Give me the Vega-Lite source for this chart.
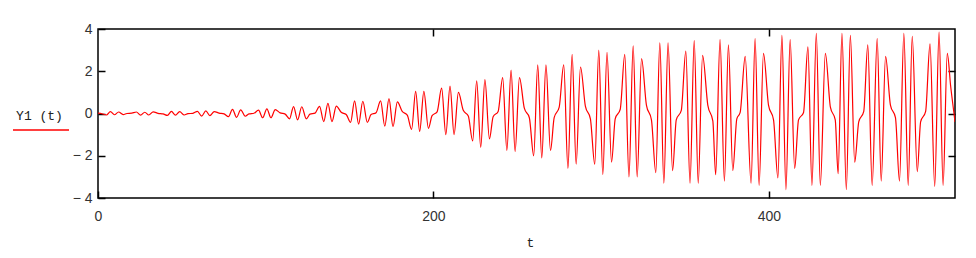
{
  "$schema": "https://vega.github.io/schema/vega-lite/v6.json",
  "width": 857,
  "height": 169,
  "autosize": {"type": "none"},
  "padding": {"left": 98, "top": 29, "right": 21, "bottom": 60},
  "background": "white",
  "config": {
    "view": {"stroke": "#000", "strokeWidth": 1.5},
    "axis": {"grid": false, "domain": false, "labelFont": "Liberation Sans", "labelFontSize": 14, "labelColor": "#333", "tickColor": "#000", "tickWidth": 1.5, "tickSize": -7, "labelFlush": false, "labelOverlap": false}
  },
  "data": {"values": [
    {"t":0,"y":0.02},{"t":2.4,"y":-0.01},{"t":5.0,"y":-0.07},{"t":7.4,"y":0.09},{"t":9.8,"y":-0.06},{"t":12.3,"y":0.07},{"t":15.0,"y":-0.05},{"t":17.2,"y":0.0},{"t":20.2,"y":0.02},{"t":22.9,"y":0.07},{"t":25.4,"y":-0.08},{"t":27.9,"y":0.06},{"t":30.3,"y":-0.07},{"t":32.9,"y":0.08},
    {"t":35.8,"y":0.01},{"t":38.8,"y":-0.02},{"t":41.4,"y":-0.09},{"t":43.8,"y":0.1},{"t":46.2,"y":-0.08},{"t":48.7,"y":0.09},{"t":51.4,"y":-0.07},{"t":53.6,"y":-0.01},{"t":56.6,"y":0.01},{"t":59.3,"y":0.1},{"t":61.8,"y":-0.12},{"t":64.3,"y":0.12},{"t":66.7,"y":-0.1},{"t":69.3,"y":0.09},
    {"t":72.2,"y":0.02},{"t":75.2,"y":-0.02},{"t":77.8,"y":-0.15},{"t":80.2,"y":0.2},{"t":82.6,"y":-0.18},{"t":85.1,"y":0.17},{"t":87.8,"y":-0.13},{"t":90.0,"y":-0.02},{"t":93.0,"y":0.01},{"t":95.7,"y":0.16},{"t":98.2,"y":-0.2},{"t":100.7,"y":0.22},{"t":103.1,"y":-0.2},{"t":105.7,"y":0.18},
    {"t":108.6,"y":0.03},{"t":111.6,"y":-0.03},{"t":114.2,"y":-0.25},{"t":116.6,"y":0.33},{"t":119.0,"y":-0.3},{"t":121.5,"y":0.32},{"t":124.2,"y":-0.25},{"t":126.4,"y":-0.03},{"t":129.4,"y":0.02},{"t":132.1,"y":0.34},{"t":134.6,"y":-0.38},{"t":137.1,"y":0.48},{"t":139.5,"y":-0.38},{"t":142.1,"y":0.35},
    {"t":145.0,"y":0.06},{"t":148.0,"y":-0.05},{"t":150.6,"y":-0.42},{"t":153.0,"y":0.6},{"t":155.4,"y":-0.5},{"t":157.9,"y":0.58},{"t":160.6,"y":-0.42},{"t":162.8,"y":-0.05},{"t":165.8,"y":0.04},{"t":168.5,"y":0.6},{"t":171.0,"y":-0.6},{"t":173.5,"y":0.7},{"t":175.9,"y":-0.62},{"t":178.5,"y":0.55},
    {"t":181.4,"y":0.1},{"t":184.4,"y":-0.08},{"t":187.0,"y":-0.75},{"t":189.4,"y":1.05},{"t":191.8,"y":-0.85},{"t":194.3,"y":1.05},{"t":197.0,"y":-0.7},{"t":199.2,"y":-0.1},{"t":202.2,"y":0.08},{"t":204.9,"y":1.2},{"t":207.4,"y":-1.0},{"t":209.9,"y":1.3},{"t":212.3,"y":-1.0},{"t":214.9,"y":1.0},
    {"t":217.8,"y":0.15},{"t":220.8,"y":-0.12},{"t":223.4,"y":-1.3},{"t":225.8,"y":1.55},{"t":228.2,"y":-1.6},{"t":230.7,"y":1.6},{"t":233.4,"y":-1.2},{"t":235.6,"y":-0.15},{"t":238.6,"y":0.1},{"t":241.3,"y":1.7},{"t":243.8,"y":-1.75},{"t":246.3,"y":2.05},{"t":248.7,"y":-1.8},{"t":251.3,"y":1.7},
    {"t":254.2,"y":0.25},{"t":257.2,"y":-0.2},{"t":259.8,"y":-2.0},{"t":262.2,"y":2.3},{"t":264.6,"y":-2.1},{"t":267.1,"y":2.3},{"t":269.8,"y":-1.75},{"t":272.0,"y":-0.2},{"t":275.0,"y":0.3},{"t":277.7,"y":2.3},{"t":280.2,"y":-2.6},{"t":282.7,"y":2.8},{"t":285.1,"y":-2.4},{"t":287.7,"y":2.2},
    {"t":290.6,"y":0.35},{"t":293.6,"y":-0.25},{"t":296.2,"y":-2.4},{"t":298.6,"y":3.0},{"t":301.0,"y":-2.9},{"t":303.5,"y":2.9},{"t":306.2,"y":-2.3},{"t":308.4,"y":-0.25},{"t":311.4,"y":0.2},{"t":314.1,"y":2.8},{"t":316.6,"y":-3.0},{"t":319.1,"y":3.2},{"t":321.5,"y":-3.0},{"t":324.1,"y":2.6},
    {"t":327.0,"y":0.4},{"t":330.0,"y":-0.3},{"t":332.6,"y":-2.8},{"t":335.0,"y":3.35},{"t":337.4,"y":-3.3},{"t":339.9,"y":3.35},{"t":342.6,"y":-2.7},{"t":344.8,"y":-0.3},{"t":347.8,"y":0.15},{"t":350.5,"y":2.95},{"t":353.0,"y":-3.3},{"t":355.5,"y":3.45},{"t":357.9,"y":-3.3},{"t":360.5,"y":2.75},
    {"t":363.6,"y":0.4},{"t":366.6,"y":-0.35},{"t":368.3,"y":-2.9},{"t":370.9,"y":3.5},{"t":373.5,"y":-3.2},{"t":375.9,"y":3.25},{"t":378.5,"y":-2.7},{"t":380.9,"y":-0.25},{"t":382.9,"y":0.05},{"t":385.9,"y":2.7},{"t":389.4,"y":-3.3},{"t":391.8,"y":3.55},{"t":394.2,"y":-3.4},{"t":396.8,"y":2.85},
    {"t":399.8,"y":0.4},{"t":402.8,"y":-0.3},{"t":405.4,"y":-3.05},{"t":407.8,"y":3.7},{"t":410.2,"y":-3.6},{"t":412.7,"y":3.5},{"t":415.4,"y":-2.6},{"t":417.7,"y":-0.3},{"t":420.7,"y":0.05},{"t":423.3,"y":3.15},{"t":425.7,"y":-3.4},{"t":428.3,"y":3.8},{"t":430.7,"y":-3.4},{"t":433.7,"y":2.85},
    {"t":436.7,"y":0.3},{"t":439.6,"y":-0.3},{"t":441.3,"y":-2.85},{"t":443.6,"y":3.8},{"t":446.2,"y":-3.6},{"t":448.6,"y":3.7},{"t":451.2,"y":-2.3},{"t":453.6,"y":-0.4},{"t":456.6,"y":0.1},{"t":459.0,"y":3.25},{"t":461.6,"y":-3.4},{"t":464.6,"y":3.55},{"t":467.0,"y":-3.2},{"t":469.6,"y":2.7},
    {"t":472.5,"y":0.4},{"t":475.5,"y":-0.2},{"t":477.9,"y":-3.2},{"t":480.5,"y":3.8},{"t":483.1,"y":-3.4},{"t":485.5,"y":3.65},{"t":488.5,"y":-2.75},{"t":490.5,"y":-0.4},{"t":493.5,"y":0.1},{"t":496.1,"y":3.3},{"t":498.9,"y":-3.45},{"t":501.5,"y":3.85},{"t":503.9,"y":-3.4},{"t":506.4,"y":2.85},
    {"t":508.4,"y":1.3},{"t":510.4,"y":0.0},{"t":511.0,"y":-0.4}
  ]},
  "layer": [
    {
      "mark": {"type": "line", "strokeWidth": 1.2, "interpolate": "monotone", "clip": true},
      "encoding": {
        "x": {"field": "t", "type": "quantitative", "scale": {"domain": [0, 511], "nice": false, "zero": false},
          "axis": {"orient": "bottom", "values": [0, 200, 400], "title": "t", "labelPadding": 18, "labelDx": 3,
            "titleFont": "Liberation Mono", "titleFontSize": 13, "titleFontWeight": "normal", "titleColor": "#222",
            "titleX": 432, "titleY": 44, "titleBaseline": "middle", "titleAlign": "center"}},
        "y": {"field": "y", "type": "quantitative", "scale": {"domain": [-4, 4], "nice": false, "zero": false},
          "axis": {"orient": "left", "values": [-4, -2, 0, 2, 4], "title": "Y1 (t)", "labelPadding": 13, "labelDy": 2,
            "labelExpr": "datum.value < 0 ? '\u2212 ' + abs(datum.value) : datum.label",
            "titleFont": "Liberation Mono", "titleFontSize": 13, "titleFontWeight": "normal", "titleColor": "#222",
            "titleAngle": 0, "titleX": -59, "titleY": 86, "titleAlign": "center", "titleBaseline": "middle"}},
        "color": {"datum": "Y1 (t)", "scale": {"range": ["#ff0000"]},
          "legend": {"orient": "none", "legendX": -86, "legendY": 72, "title": null, "symbolType": "stroke", "symbolSize": 3136,
            "symbolStrokeWidth": 1.5, "labelExpr": "''", "labelOffset": 0, "padding": 0}}
      }
    },
    {
      "mark": {"type": "line", "strokeOpacity": 0},
      "encoding": {
        "x": {"field": "t", "type": "quantitative", "axis": {"orient": "top", "values": [200, 400], "labels": false, "title": null}},
        "y": {"field": "y", "type": "quantitative", "axis": {"orient": "right", "values": [-2, 0, 2], "labels": false, "title": null}}
      }
    }
  ],
  "resolve": {"axis": {"x": "independent", "y": "independent"}}
}
